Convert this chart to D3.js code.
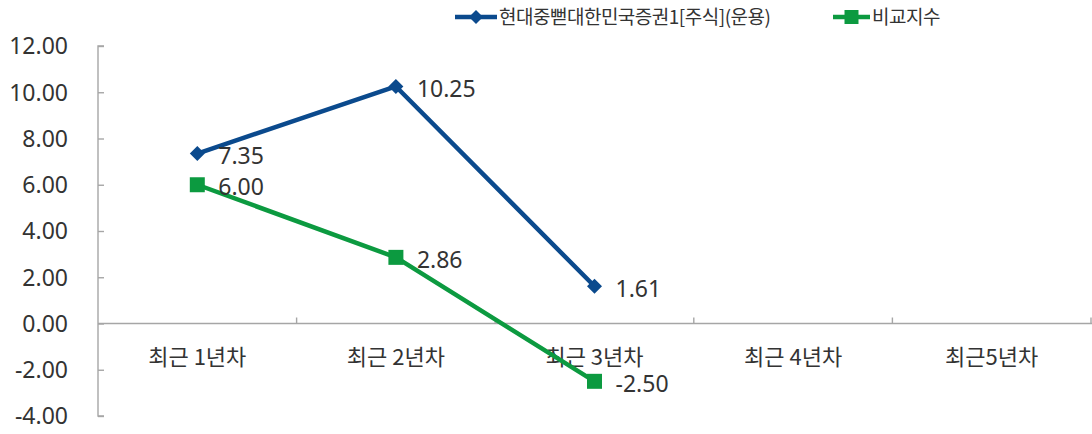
<!DOCTYPE html>
<html><head><meta charset="utf-8">
<script src="https://cdn.jsdelivr.net/npm/d3@7"></script>
<style>
html,body{margin:0;padding:0;background:#fff;}
svg{display:block;}
</style></head>
<body><svg id="c" width="1092" height="434"></svg>
<script>
const categories = ["최근 1년차", "최근 2년차", "최근 3년차", "최근 4년차", "최근5년차"];
const fundName = "현대중뻗대한민국증권1[주식](운용)";
const benchName = "비교지수";
const fundValues = [7.35, 10.25, 1.61, null, null];
const benchValues = [6.00, 2.86, -2.50, null, null];
const yTicks = [-4, -2, 0, 2, 4, 6, 8, 10, 12];

const blue = "#0b4a8d", green = "#0c9a40", axisCol = "#a6a6a6", textCol = "#333333";
const fmt = d3.formatLocale({decimal: ".", thousands: ",", grouping: [3], currency: ["", ""], minus: "-"}).format(".2f");
const svg = d3.select("#c");
const x = d3.scaleBand().domain(categories).range([98, 1091]);
const y = d3.scaleLinear().domain([-4, 12]).range([416, 46]);
const cx = c => x(c) + x.bandwidth() / 2;

// Y axis
const yAxis = d3.axisRight(y).tickValues(yTicks).tickSize(6).tickFormat("");
const yg = svg.append("g").attr("transform", "translate(98,0)").call(yAxis);
yg.select(".domain").attr("stroke", axisCol).attr("stroke-width", 1.4).attr("d", `M6,${y(12)}H0V${y(-4)}H6`);
yg.selectAll(".tick line").attr("stroke", axisCol).attr("stroke-width", 1.4);
svg.append("g").selectAll("text").data(yTicks).join("text")
  .attr("x", 68).attr("y", d => y(d)).attr("dy", "0.36em")
  .attr("text-anchor", "end").attr("fill", textCol)
  .style("font", "23px 'Noto Sans', sans-serif")
  .text(d => fmt(d));

// X axis at zero
const xg = svg.append("g").attr("transform", `translate(0,${y(0)})`);
xg.append("line").attr("x1", 98).attr("x2", 1092).attr("y1", 0).attr("y2", 0)
  .attr("stroke", axisCol).attr("stroke-width", 1.4);
xg.selectAll("line.t").data(categories.slice(1)).join("line").attr("class", "t")
  .attr("x1", d => x(d)).attr("x2", d => x(d)).attr("y1", 0).attr("y2", -6)
  .attr("stroke", axisCol).attr("stroke-width", 1.4);
xg.append("line").attr("x1", 1091).attr("x2", 1091).attr("y1", 0).attr("y2", -6)
  .attr("stroke", axisCol).attr("stroke-width", 1.4);
xg.selectAll("text").data(categories).join("text")
  .attr("x", d => cx(d)).attr("y", 34).attr("dy", "0.35em")
  .attr("text-anchor", "middle").attr("fill", textCol)
  .style("font", "22px 'Noto Sans CJK KR', sans-serif")
  .text(d => d);

function diamond(s) { return `M0,${-s}L${s},0L0,${s}L${-s},0Z`; }
function square(s) { return `M${-s},${-s}H${s}V${s}H${-s}Z`; }

function series(vals, color, shape) {
  const pts = categories.map((c, i) => ({c, v: vals[i]})).filter(d => d.v != null);
  const line = d3.line().x(d => cx(d.c)).y(d => y(d.v));
  svg.append("path").datum(pts).attr("d", line).attr("fill", "none")
    .attr("stroke", color).attr("stroke-width", 4.5).attr("stroke-linejoin", "round");
  svg.append("g").selectAll("path").data(pts).join("path")
    .attr("transform", d => `translate(${cx(d.c)},${y(d.v)})`)
    .attr("d", shape).attr("fill", color);
  svg.append("g").selectAll("text").data(pts).join("text")
    .attr("x", d => cx(d.c) + 21).attr("y", d => y(d.v) + 2).attr("dy", "0.36em")
    .attr("fill", textCol).style("font", "23px 'Noto Sans', sans-serif")
    .text(d => fmt(d.v));
}
series(fundValues, blue, diamond(7.5));
series(benchValues, green, square(7.5));

// Legend
const leg = svg.append("g");
function legItem(x0, x1, color, shape, label) {
  leg.append("line").attr("x1", x0).attr("x2", x1).attr("y1", 17).attr("y2", 17)
    .attr("stroke", color).attr("stroke-width", 4.5);
  leg.append("path").attr("transform", `translate(${(x0 + x1) / 2},17)`).attr("d", shape).attr("fill", color);
  leg.append("text").attr("x", x1 + 2).attr("y", 17).attr("dy", "0.36em").attr("fill", textCol)
    .style("font", "19px 'Noto Sans CJK KR', sans-serif").style("letter-spacing", "-0.5px")
    .text(label);
}
legItem(455, 497, blue, diamond(7), fundName);
legItem(833, 870, green, square(7), benchName);
</script></body></html>
